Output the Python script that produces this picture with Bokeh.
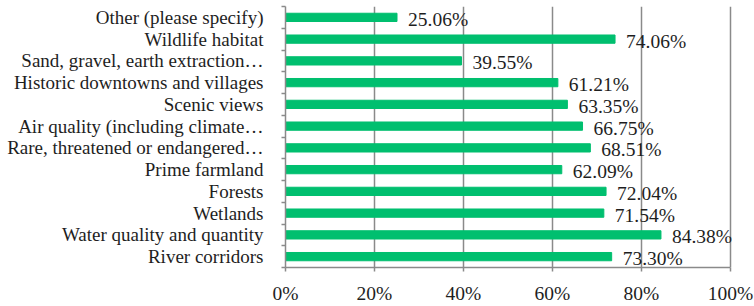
from bokeh.plotting import figure
from bokeh.models import Range1d, FixedTicker, ColumnDataSource, LabelSet
from bokeh.embed import file_html
from bokeh.resources import INLINE

# Data (bottom to top, as drawn)
categories = [
    "River corridors",
    "Water quality and quantity",
    "Wetlands",
    "Forests",
    "Prime farmland",
    "Rare, threatened or endangered\u2026",
    "Air quality (including climate\u2026",
    "Scenic views",
    "Historic downtowns and villages",
    "Sand, gravel, earth extraction\u2026",
    "Wildlife habitat",
    "Other (please specify)",
]
percentages = [73.30, 84.38, 71.54, 72.04, 62.09, 68.51, 66.75, 63.35, 61.21, 39.55, 74.06, 25.06]
x_ticks = [0, 20, 40, 60, 80, 100]
x_tick_labels = ["0%", "20%", "40%", "60%", "80%", "100%"]

FONT = "Liberation Serif"
FSIZE = "19.5px"
YSIZE = "19px"
GREEN = "#00BF6F"
GRAY = "#8A8A8A"
TEXT = "#1E1E1E"

n = len(categories)
centers = [i + 0.5 for i in range(n)]
source = ColumnDataSource(dict(
    y=centers,
    pct=percentages,
    label=["{:.2f}%".format(v) for v in percentages],
))

p = figure(
    width=754, height=306,
    x_range=Range1d(0, 105.4), y_range=Range1d(0, n),
    output_backend="svg", toolbar_location=None,
    min_border_left=285, min_border_right=0, min_border_top=6, min_border_bottom=0,
)
p.outline_line_color = None
p.background_fill_color = "white"
p.border_fill_color = "white"

p.hbar(y="y", right="pct", left=0, height=0.38, color=GREEN, source=source)
labels = LabelSet(x="pct", y="y", text="label", source=source,
                  x_offset=11, y_offset=-2, text_baseline="middle", text_align="left",
                  text_font=FONT, text_font_size=FSIZE, text_color=TEXT)
p.add_layout(labels)

# x axis
xa = p.xaxis[0]
xa.ticker = FixedTicker(ticks=x_ticks)
xa.bounds = (0, 100)
xa.major_label_overrides = {t: l for t, l in zip(x_ticks, x_tick_labels)}
xa.axis_line_color = GRAY
xa.axis_line_width = 1.5
xa.major_tick_line_color = GRAY
xa.major_tick_line_width = 1.5
xa.major_tick_out = 4
xa.major_tick_in = 0
xa.minor_tick_line_color = None
xa.major_label_standoff = 11
xa.major_label_text_font = FONT
xa.major_label_text_font_size = FSIZE
xa.major_label_text_color = TEXT

# y axis
ya = p.yaxis[0]
ya.ticker = FixedTicker(ticks=centers, minor_ticks=list(range(n + 1)))
ya.major_label_overrides = {c: cat for c, cat in zip(centers, categories)}
ya.axis_line_color = GRAY
ya.axis_line_width = 1.5
ya.major_tick_line_color = None
ya.major_tick_out = 0
ya.major_tick_in = 0
ya.minor_tick_line_color = GRAY
ya.minor_tick_line_width = 1.5
ya.minor_tick_out = 4
ya.minor_tick_in = 0
ya.major_label_standoff = 18
ya.major_label_text_font = FONT
ya.major_label_text_font_size = YSIZE
ya.major_label_text_color = TEXT

p.xgrid.ticker = FixedTicker(ticks=x_ticks)
p.xgrid.grid_line_color = GRAY
p.xgrid.grid_line_width = 1.5
p.ygrid.grid_line_color = None

open("out.html", "w").write(file_html(p, INLINE))
